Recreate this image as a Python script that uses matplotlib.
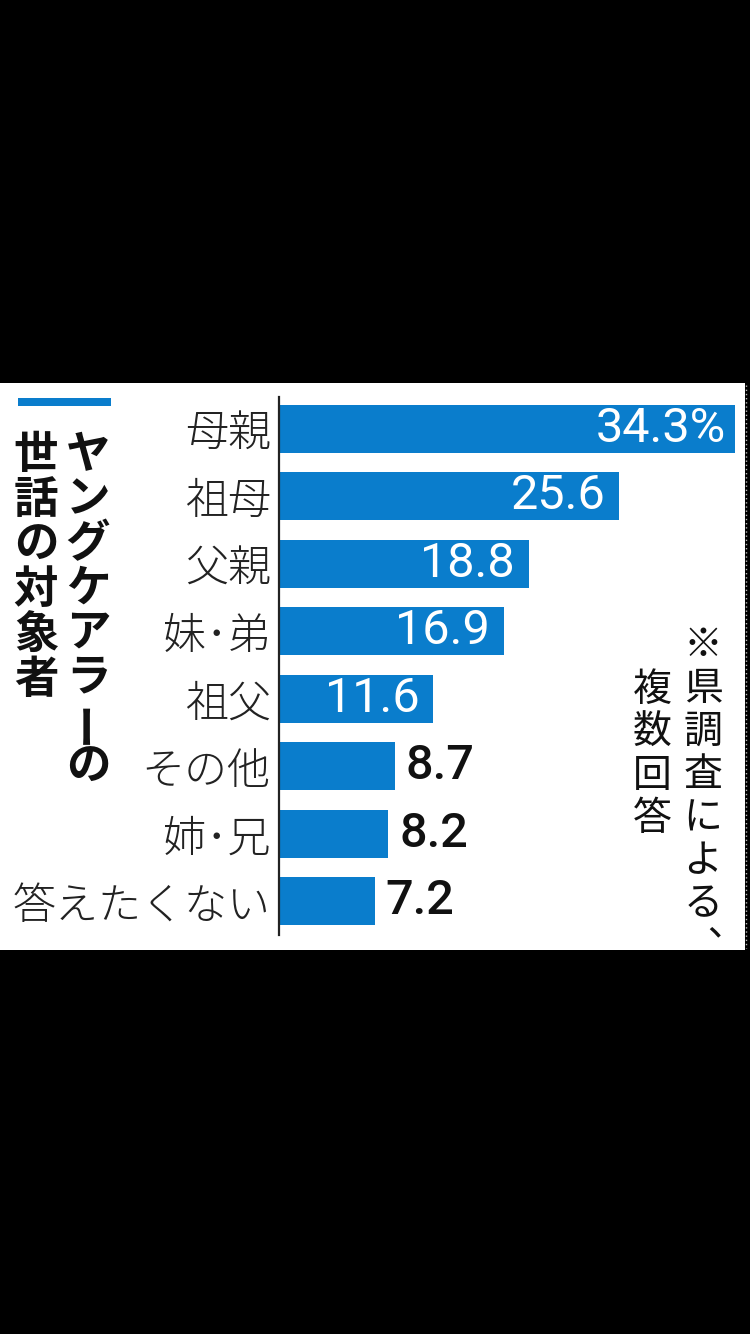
from __future__ import annotations

import matplotlib

matplotlib.use("Agg")
import matplotlib.pyplot as plt
from matplotlib.patches import Rectangle
from matplotlib.lines import Line2D

W, H = 750, 1334
BLUE = "#0a7dcc"
JP = ["Noto Sans CJK JP", "DejaVu Sans"]
NUM = ["Roboto", "DejaVu Sans"]

CATEGORIES = ["母親", "祖母", "父親", "妹･弟", "祖父", "その他", "姉･兄", "答えたくない"]
VALUES = [34.3, 25.6, 18.8, 16.9, 11.6, 8.7, 8.2, 7.2]
VALUE_LABELS = ["34.3%", "25.6", "18.8", "16.9", "11.6", "8.7", "8.2", "7.2"]
INSIDE = [True, True, True, True, True, False, False, False]

TITLE_COLUMNS = ["ヤングケアラーの", "世話の対象者"]
NOTE_COLUMNS = ["※県調査による︑", "複数回答"]


def _fx(x: float) -> float:
    return x / W


def _fy(y: float) -> float:
    return 1 - y / H


def _vertical_text(fig, text: str, x: float, y0: float, step: float, **kw) -> None:
    for i, ch in enumerate(text):
        rot = 90 if ch == "ー" else 0
        fig.text(_fx(x), _fy(y0 + i * step), ch, ha="center", va="center",
                 rotation=rot, family=JP, **kw)


def main() -> None:
    fig = plt.figure(figsize=(W / 100, H / 100), dpi=100, facecolor="black")

    # white panel, drawn below the axes
    fig.patches.append(Rectangle((0, _fy(950)), _fx(745), _fy(383) - _fy(950),
                                 transform=fig.transFigure, facecolor="white",
                                 edgecolor="none", zorder=-5))
    fig.lines.append(Line2D([_fx(746), _fx(746)], [_fy(385), _fy(948)],
                            transform=fig.transFigure, color="#bbbbbb",
                            linestyle=(0, (1, 2)), linewidth=1, zorder=-4))

    left, right, top, bottom = 279, 745, 397, 935
    ax = fig.add_axes([_fx(left), _fy(bottom), _fx(right) - _fx(left), _fy(top) - _fy(bottom)])
    ax.set_facecolor("none")
    ypos = list(range(len(CATEGORIES)))
    ax.barh(ypos, VALUES, height=0.71, color=BLUE, zorder=2)
    ax.set_xlim(0, (right - left) / 13.3)
    ax.set_ylim(len(CATEGORIES) - 0.5, -0.47)
    for side in ["top", "right", "bottom"]:
        ax.spines[side].set_visible(False)
    ax.spines["left"].set_linewidth(1.6)
    ax.spines["left"].set_color("#222222")
    ax.set_xticks([])
    ax.set_yticks(ypos)
    ax.set_yticklabels(CATEGORIES, family=JP, fontsize=31, fontweight="light", color="#222222")
    ax.tick_params(axis="y", length=0, pad=6)

    px = 1 / 13.3  # data units per pixel
    for y, v, lab, inside in zip(ypos, VALUES, VALUE_LABELS, INSIDE):
        if inside:
            pad = 9 if lab.endswith("%") else 14
            ax.text(v - pad * px, y, lab, ha="right", va="center", color="white",
                    fontsize=35, family=NUM, zorder=3)
        else:
            ax.text(v + 11 * px, y, lab, ha="left", va="center", color="#111111",
                    fontsize=35, family=NUM, fontweight="medium", zorder=3)

    # title
    fig.patches.append(Rectangle((_fx(18), _fy(406)), _fx(93), _fy(398) - _fy(406),
                                 transform=fig.transFigure, facecolor=BLUE,
                                 edgecolor="none"))
    _vertical_text(fig, TITLE_COLUMNS[0], 88, 455, 44.5, fontsize=32, fontweight="bold", color="#111111")
    _vertical_text(fig, TITLE_COLUMNS[1], 36, 455, 45, fontsize=32, fontweight="bold", color="#111111")

    # note
    _vertical_text(fig, NOTE_COLUMNS[0], 703, 646, 43, fontsize=28, color="#111111")
    _vertical_text(fig, NOTE_COLUMNS[1], 652, 690, 43, fontsize=28, color="#111111")

    fig.savefig("out.png", dpi=100, facecolor="black")
    plt.close(fig)


if __name__ == "__main__":
    main()
